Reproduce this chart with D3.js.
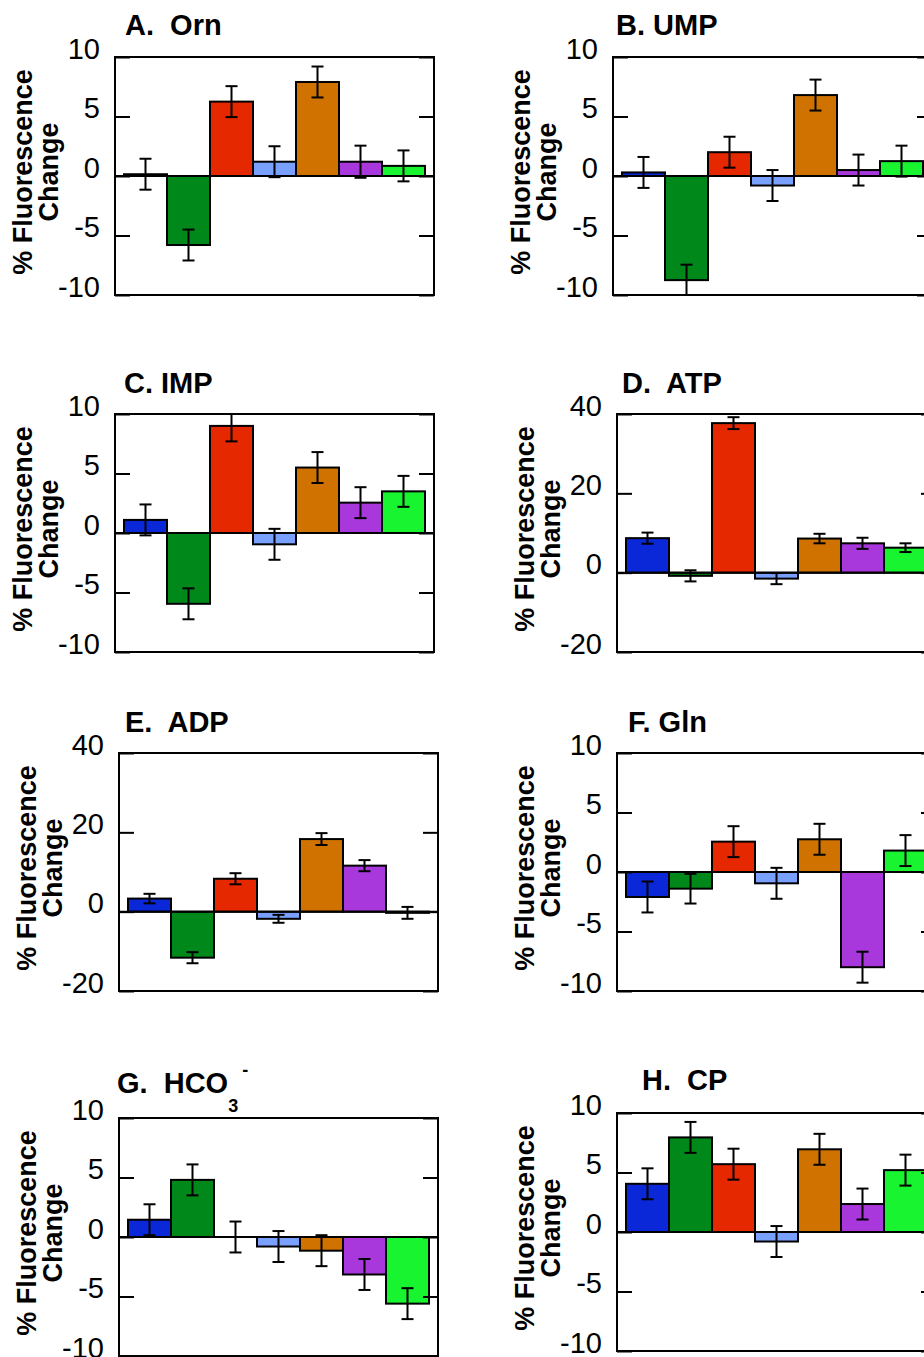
<!DOCTYPE html>
<meta charset="utf-8">
<style>
body { margin: 0; background: #fff; }
svg { display: block; font-family: "Liberation Sans", Arial, Helvetica, sans-serif; }
.box { fill: none; stroke: #000; stroke-width: 2px; }
.bar { stroke: #000; stroke-width: 2px; }
.err line { stroke: #000; stroke-width: 2px; }
.zero { stroke: #000; stroke-width: 2px; }
.axis path { display: none; }
.axis line { stroke: #000; stroke-width: 2px; }
.axis text { font-size: 29px; fill: #000; }
.title { font-size: 29px; font-weight: bold; white-space: pre; }
.ylab { font-size: 27px; font-weight: bold; }
</style>
<svg width="924" height="1357"></svg>
<script src="https://d3js.org/d3.v7.min.js"></script>
<script>

// seven conditions, same order/colour in every panel
var conditions = ["c1", "c2", "c3", "c4", "c5", "c6", "c7"];
var colors = ["#0a28d8", "#00881a", "#e62800", "#7aa0ff", "#d07200", "#a838dc", "#18f430"];

var ticks10 = [-10, -5, 0, 5, 10];
var ticks40 = [-20, 0, 20, 40];

var ornValues = [0.15, -5.8, 6.25, 1.2, 7.9, 1.2, 0.85];
var ornErrors = [1.3, 1.3, 1.3, 1.3, 1.3, 1.35, 1.3];

var umpValues = [0.3, -8.75, 2.0, -0.8, 6.8, 0.5, 1.25];
var umpErrors = [1.3, 1.3, 1.3, 1.3, 1.3, 1.3, 1.3];

var impValues = [1.1, -5.95, 9.0, -0.95, 5.5, 2.55, 3.5];
var impErrors = [1.3, 1.3, 1.3, 1.3, 1.3, 1.3, 1.3];

var atpValues = [8.7, -0.8, 37.7, -1.5, 8.6, 7.4, 6.3];
var atpErrors = [1.4, 1.4, 1.5, 1.4, 1.2, 1.4, 1.1];

var adpValues = [3.3, -11.6, 8.3, -1.8, 18.3, 11.6, -0.3];
var adpErrors = [1.2, 1.4, 1.4, 1.0, 1.5, 1.4, 1.5];

var glnValues = [-2.1, -1.4, 2.55, -0.95, 2.75, -8.0, 1.8];
var glnErrors = [1.3, 1.25, 1.3, 1.3, 1.3, 1.3, 1.3];

var hco3Values = [1.45, 4.8, 0, -0.8, -1.15, -3.15, -5.6];
var hco3Errors = [1.3, 1.3, 1.3, 1.3, 1.3, 1.3, 1.3];

var cpValues = [4.05, 7.95, 5.7, -0.8, 6.95, 2.35, 5.2];
var cpErrors = [1.3, 1.3, 1.3, 1.3, 1.3, 1.3, 1.3];

var svg = d3.select("svg");
var boxW = 319, boxH = 238;

var panels = [
  {title: "A.  Orn", values: ornValues, errors: ornErrors, domain: [-10, 10], ticks: ticks10, x: 115, y: 57, tx: 125, ty: 35},
  {title: "B. UMP", values: umpValues, errors: umpErrors, domain: [-10, 10], ticks: ticks10, x: 613, y: 57, tx: 616, ty: 35},
  {title: "C. IMP", values: impValues, errors: impErrors, domain: [-10, 10], ticks: ticks10, x: 115, y: 414, tx: 124, ty: 393},
  {title: "D.  ATP", values: atpValues, errors: atpErrors, domain: [-20, 40], ticks: ticks40, x: 617, y: 414, tx: 622, ty: 393},
  {title: "E.  ADP", values: adpValues, errors: adpErrors, domain: [-20, 40], ticks: ticks40, x: 119, y: 753, tx: 125, ty: 732},
  {title: "F. Gln", values: glnValues, errors: glnErrors, domain: [-10, 10], ticks: ticks10, x: 617, y: 753, tx: 628, ty: 732},
  {title: "G.  HCO", sub: "3", sup: "-", values: hco3Values, errors: hco3Errors, domain: [-10, 10], ticks: ticks10, x: 119, y: 1118, tx: 117, ty: 1093},
  {title: "H.  CP", values: cpValues, errors: cpErrors, domain: [-10, 10], ticks: ticks10, x: 617, y: 1113, tx: 642, ty: 1090}
];

panels.forEach(function(p, i) {
  var g = svg.append("g").attr("transform", "translate(" + p.x + "," + p.y + ")");

  var x = d3.scaleBand().domain(conditions).range([9, boxW - 9]).padding(0);
  var y = d3.scaleLinear().domain(p.domain).range([boxH, 0]);

  g.append("clipPath").attr("id", "clip" + i)
    .append("rect").attr("width", boxW).attr("height", boxH);

  var plot = g.append("g").attr("clip-path", "url(#clip" + i + ")");

  var rows = conditions.map(function(c, j) {
    return {cond: c, value: p.values[j], err: p.errors[j], color: colors[j]};
  });

  plot.selectAll("rect.bar")
    .data(rows)
    .enter().append("rect")
      .attr("class", "bar")
      .attr("x", function(d) { return x(d.cond); })
      .attr("width", x.bandwidth())
      .attr("y", function(d) { return y(Math.max(0, d.value)); })
      .attr("height", function(d) { return Math.abs(y(d.value) - y(0)); })
      .attr("fill", function(d) { return d.color; });

  plot.append("line").attr("class", "zero")
    .attr("x1", 0).attr("x2", boxW)
    .attr("y1", y(0)).attr("y2", y(0));

  var err = plot.selectAll("g.err")
    .data(rows)
    .enter().append("g")
      .attr("class", "err")
      .attr("transform", function(d) { return "translate(" + (x(d.cond) + x.bandwidth() / 2) + ",0)"; });
  err.append("line")
    .attr("y1", function(d) { return y(d.value + d.err); })
    .attr("y2", function(d) { return y(d.value - d.err); });
  err.append("line")
    .attr("x1", -6).attr("x2", 6)
    .attr("y1", function(d) { return y(d.value + d.err); })
    .attr("y2", function(d) { return y(d.value + d.err); });
  err.append("line")
    .attr("x1", -6).attr("x2", 6)
    .attr("y1", function(d) { return y(d.value - d.err); })
    .attr("y2", function(d) { return y(d.value - d.err); });

  // left axis: inward ticks + labels (plain hyphen minus like the original)
  var left = g.append("g").attr("class", "axis")
    .call(d3.axisLeft(y).tickValues(p.ticks).tickSize(-15).tickPadding(15)
      .tickFormat(function(d) { return String(d); }));
  left.selectAll("text").attr("dy", null).attr("y", 1);

  // right axis: inward ticks only
  g.append("g").attr("class", "axis")
    .attr("transform", "translate(" + boxW + ",0)")
    .call(d3.axisRight(y).tickValues(p.ticks).tickSize(-15).tickFormat(""));

  g.append("rect").attr("class", "box").attr("width", boxW).attr("height", boxH);

  // y label, two lines
  var cy = boxH / 2 - 4;
  g.append("text").attr("class", "ylab")
    .attr("transform", "translate(-83," + cy + ") rotate(-90)")
    .attr("text-anchor", "middle")
    .text("% Fluorescence");
  g.append("text").attr("class", "ylab")
    .attr("transform", "translate(-57," + cy + ") rotate(-90)")
    .attr("text-anchor", "middle")
    .text("Change");

  // panel title
  var t = svg.append("text").attr("class", "title")
    .attr("x", p.tx).attr("y", p.ty);
  t.append("tspan").text(p.title);
  if (p.sub) {
    t.append("tspan").attr("dy", 19).style("font-size", "18px").text(p.sub);
    t.append("tspan").attr("dx", 4).attr("dy", -36).style("font-size", "18px").text(p.sup);
  }
});

</script>
